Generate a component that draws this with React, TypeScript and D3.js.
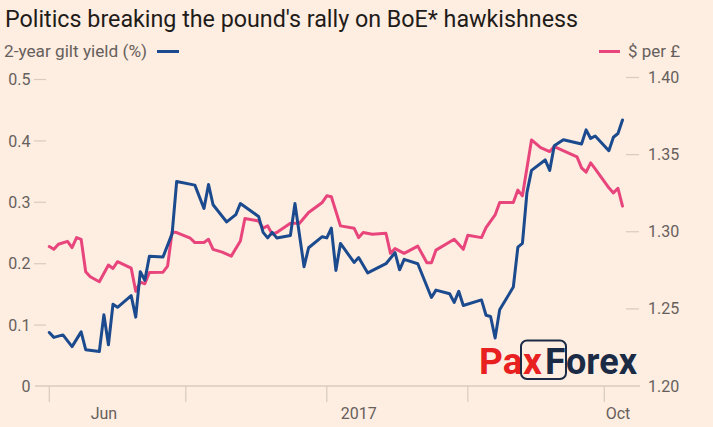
import React from "react";
import * as d3 from "d3";

const titleText = "Politics breaking the pound's rally on BoE* hawkishness";
const leftLegend = "2-year gilt yield (%)";
const rightLegend = "$ per £";

const giltDates = [
  "2017-06-01","2017-06-02","2017-06-04","2017-06-06","2017-06-08","2017-06-09","2017-06-12","2017-06-13",
  "2017-06-14","2017-06-15","2017-06-16","2017-06-19","2017-06-20","2017-06-21","2017-06-22","2017-06-23",
  "2017-06-26","2017-06-28","2017-06-29","2017-07-03","2017-07-05","2017-07-06","2017-07-07","2017-07-10",
  "2017-07-12","2017-07-13","2017-07-17","2017-07-18","2017-07-19","2017-07-20","2017-07-21","2017-07-24",
  "2017-07-25","2017-07-27","2017-07-28","2017-07-31","2017-08-01","2017-08-02","2017-08-03","2017-08-04",
  "2017-08-07","2017-08-08","2017-08-10","2017-08-14","2017-08-16","2017-08-17","2017-08-18","2017-08-21",
  "2017-08-24","2017-08-25","2017-08-28","2017-08-29","2017-08-30","2017-08-31","2017-09-04","2017-09-05",
  "2017-09-06","2017-09-07","2017-09-08","2017-09-11","2017-09-12","2017-09-13","2017-09-14","2017-09-15",
  "2017-09-18","2017-09-19","2017-09-20","2017-09-22","2017-09-26","2017-09-27","2017-09-28","2017-09-29",
  "2017-10-02","2017-10-03","2017-10-04","2017-10-05"
];
const giltValues = [
  0.088,0.080,0.084,0.065,0.089,0.060,0.057,0.117,
  0.068,0.134,0.129,0.148,0.113,0.187,0.173,0.212,
  0.211,0.249,0.334,0.328,0.290,0.329,0.296,0.268,
  0.280,0.298,0.277,0.251,0.242,0.251,0.242,0.246,
  0.298,0.195,0.226,0.244,0.242,0.258,0.189,0.233,
  0.202,0.210,0.185,0.200,0.218,0.190,0.207,0.200,
  0.145,0.157,0.151,0.137,0.155,0.132,0.141,0.116,
  0.114,0.079,0.125,0.162,0.227,0.233,0.316,0.352,
  0.369,0.352,0.392,0.402,0.395,0.418,0.404,0.408,
  0.384,0.406,0.412,0.434
];

const usdDates = [
  "2017-06-01","2017-06-02","2017-06-03","2017-06-05","2017-06-06","2017-06-07","2017-06-08","2017-06-09",
  "2017-06-10","2017-06-12","2017-06-14","2017-06-15","2017-06-16","2017-06-19","2017-06-20","2017-06-21",
  "2017-06-22","2017-06-23","2017-06-26","2017-06-27","2017-06-28","2017-06-29","2017-07-02","2017-07-03",
  "2017-07-05","2017-07-06","2017-07-07","2017-07-09","2017-07-11","2017-07-13","2017-07-14","2017-07-17",
  "2017-07-18","2017-07-19","2017-07-20","2017-07-21","2017-07-24","2017-07-26","2017-07-28","2017-07-31",
  "2017-08-01","2017-08-02","2017-08-04","2017-08-07","2017-08-08","2017-08-09","2017-08-11","2017-08-14",
  "2017-08-15","2017-08-16","2017-08-18","2017-08-21","2017-08-23","2017-08-24","2017-08-25","2017-08-29",
  "2017-08-31","2017-09-01","2017-09-04","2017-09-05","2017-09-07","2017-09-08","2017-09-11","2017-09-12",
  "2017-09-13","2017-09-15","2017-09-17","2017-09-19","2017-09-20","2017-09-25","2017-09-26","2017-09-27",
  "2017-09-28","2017-09-29","2017-10-02","2017-10-03","2017-10-04","2017-10-05"
];
const usdValues = [
  1.2904,1.2886,1.2919,1.2938,1.2897,1.2962,1.2951,1.2741,
  1.2708,1.2676,1.2784,1.2762,1.2806,1.2764,1.2614,1.2673,
  1.2663,1.2736,1.2738,1.2777,1.2999,1.2995,1.2958,1.2930,
  1.2930,1.2951,1.2886,1.2868,1.2842,1.2940,1.3086,1.3070,
  1.3023,1.3038,1.2984,1.2995,1.3055,1.3055,1.3125,1.3190,
  1.3233,1.3227,1.3038,1.3023,1.2962,1.2995,1.2984,1.2990,
  1.2860,1.2891,1.2860,1.2907,1.2799,1.2799,1.2881,1.2951,
  1.2886,1.2977,1.2962,1.3027,1.3109,1.3190,1.3190,1.3270,
  1.3233,1.3595,1.3545,1.3520,1.3552,1.3485,1.3414,1.3386,
  1.3447,1.3408,1.3285,1.3252,1.3282,1.3166
];

const leftTicks = [0, 0.1, 0.2, 0.3, 0.4, 0.5];
const leftTickLabels = ["0", "0.1", "0.2", "0.3", "0.4", "0.5"];
const rightTicks = [1.2, 1.25, 1.3, 1.35, 1.4];
const rightTickLabels = ["1.20", "1.25", "1.30", "1.35", "1.40"];
const monthTicks = ["2017-06-01", "2017-07-01", "2017-08-01", "2017-09-01", "2017-10-01"];
const xLabels = ["Jun", "2017", "Oct"];
const xLabelDates = ["2017-06-13", "2017-08-08", "2017-10-04"];

const parse = d3.timeParse("%Y-%m-%d");

export default function App() {
  const W = 713, H = 427;
  const bg = "#feede1";
  const blue = "#1b4b8e";
  const pink = "#e8457c";
  const tickCol = "#d8cbbf";
  const textCol = "#66605c";
  const font = "Roboto, 'Open Sans', sans-serif";

  const x = d3.scaleTime()
    .domain([parse("2017-05-29")!, parse("2017-10-09")!])
    .range([35.65, 640.7]);
  const yL = d3.scaleLinear().domain([0, 0.5]).range([386.5, 79.5]);
  const yR = d3.scaleLinear().domain([1.2, 1.4]).range([386, 77.5]);

  const gilt = giltDates.map((d, i) => ({ d: parse(d)!, v: giltValues[i] }));
  const usd = usdDates.map((d, i) => ({ d: parse(d)!, v: usdValues[i] }));

  const giltLine = d3.line<{ d: Date; v: number }>().x(p => x(p.d)).y(p => yL(p.v));
  const usdLine = d3.line<{ d: Date; v: number }>().x(p => x(p.d)).y(p => yR(p.v));

  return (
    <svg width={W} height={H} style={{ position: "absolute", left: 0, top: 0, display: "block" }}>
      <rect x={0} y={0} width={W} height={H} fill={bg} />
      <text x={5} y={27} fontFamily={font} fontSize={23} fill="#1f1c1a"
        textLength={573} lengthAdjust="spacingAndGlyphs">{titleText}</text>

      <text x={4} y={57} fontFamily={font} fontSize={16} fill={textCol}
        textLength={143} lengthAdjust="spacingAndGlyphs">{leftLegend}</text>
      <line x1={157} x2={179} y1={51.5} y2={51.5} stroke={blue} strokeWidth={3} />
      <line x1={599} x2={620} y1={51.5} y2={51.5} stroke={pink} strokeWidth={3} />
      <text x={628} y={57} fontFamily={font} fontSize={16} fill={textCol}
        textLength={52} lengthAdjust="spacingAndGlyphs">{rightLegend}</text>

      {leftTicks.map((t, i) => (
        <g key={"l" + i}>
          {t !== 0 && <line x1={34} x2={46} y1={yL(t)} y2={yL(t)} stroke={tickCol} strokeWidth={1.2} />}
          <text x={30.5} y={yL(t)} dy="0.35em" textAnchor="end" fontFamily={font} fontSize={16} fill={textCol}>
            {leftTickLabels[i]}
          </text>
        </g>
      ))}
      {rightTicks.map((t, i) => (
        <g key={"r" + i}>
          {t !== 1.2 && <line x1={626} x2={639} y1={yR(t)} y2={yR(t)} stroke={tickCol} strokeWidth={1.2} />}
          <text x={648} y={yR(t)} dy="0.35em" textAnchor="start" fontFamily={font} fontSize={16} fill={textCol}>
            {rightTickLabels[i]}
          </text>
        </g>
      ))}

      <line x1={35} x2={640} y1={386} y2={386} stroke={tickCol} strokeWidth={1.3} />
      {monthTicks.map((m, i) => (
        <line key={"m" + i} x1={x(parse(m)!)} x2={x(parse(m)!)} y1={386} y2={402} stroke={tickCol} strokeWidth={1.2} />
      ))}
      {xLabels.map((l, i) => (
        <text key={"x" + i} x={x(parse(xLabelDates[i])!)} y={419} textAnchor="middle"
          fontFamily={font} fontSize={16} fill={textCol}>{l}</text>
      ))}

      <path d={usdLine(usd) || ""} fill="none" stroke={pink} strokeWidth={3} strokeLinejoin="round" strokeLinecap="round" />
      <path d={giltLine(gilt) || ""} fill="none" stroke={blue} strokeWidth={3} strokeLinejoin="round" strokeLinecap="round" />

      <g fontFamily="Roboto, sans-serif" fontWeight={700} fontSize={37}>
        <text x={479} y={374} fill="#e8201f">Pa</text>
        <rect x={521} y={340.5} width={45} height={38.5} rx={6} fill="none" stroke="#1b2b45" strokeWidth={2} />
        <text x={523} y={374} fill="#e8201f">x</text>
        <text x={545} y={374} fill="#1b2b45">F</text>
        <text x={566} y={374} fill="#1b2b45" textLength={71} lengthAdjust="spacingAndGlyphs">orex</text>
      </g>
    </svg>
  );
}
